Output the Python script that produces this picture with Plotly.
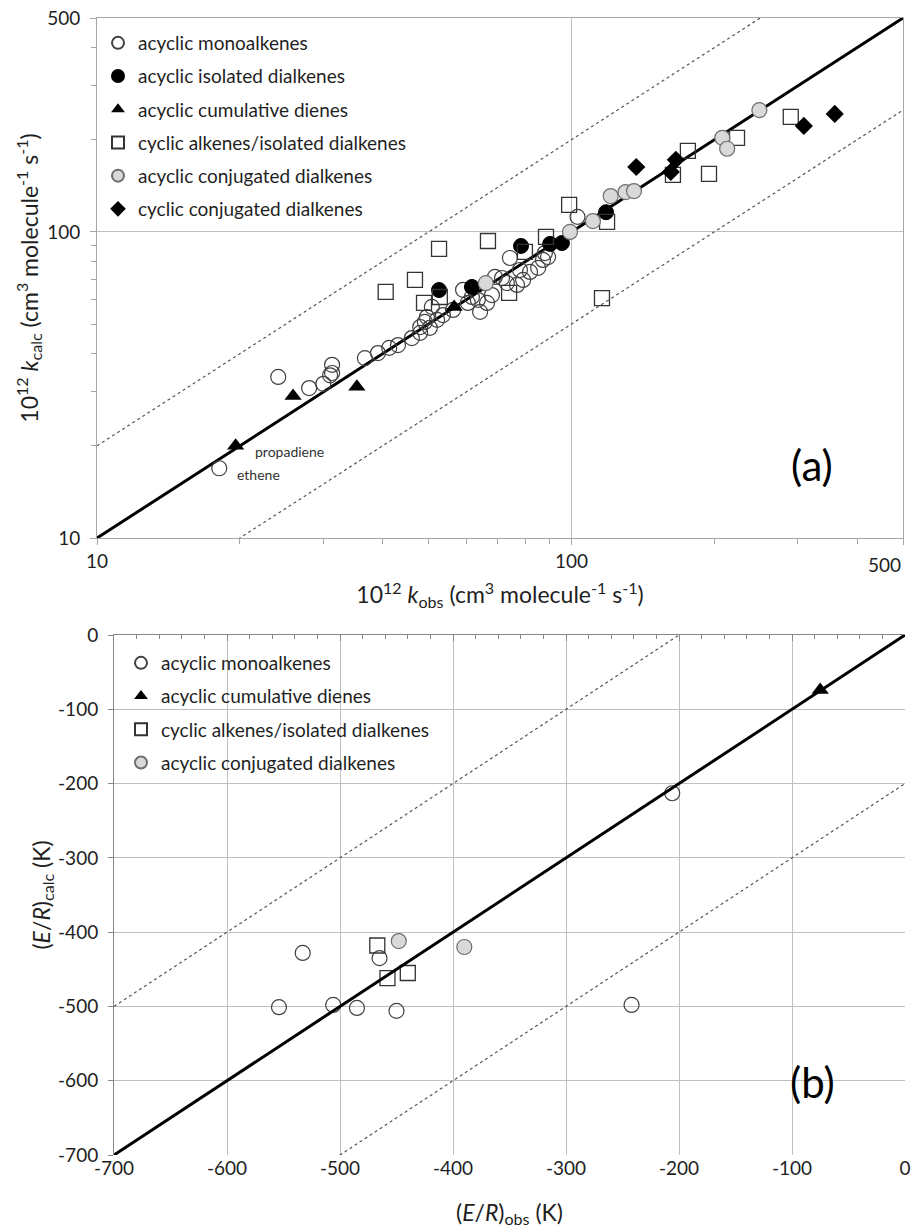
import plotly.graph_objects as go
import numpy as np

# ---------------- Panel (a): 10^12 k_obs vs 10^12 k_calc ----------------
mono_x = [18.1, 24.1, 28.0, 30.0, 31.3, 31.3, 31.0, 36.7, 39.1, 41.3, 43.1, 46.1, 48.0, 49.1, 50.3,
          50.8, 53.6, 49.6, 52.1, 48.0, 56.3, 59.1, 61.7, 63.5, 60.5, 64.2, 66.4, 68.0, 69.0, 71.4,
          73.1, 76.8, 79.1, 81.8, 85.1, 87.1, 89.3, 74.2, 77.9, 87.9, 103.0]
mono_y = [16.9, 33.6, 30.9, 31.9, 36.8, 34.6, 34.0, 38.7, 40.2, 41.8, 42.7, 45.0, 46.8, 50.8, 48.6,
          56.9, 53.5, 52.7, 51.6, 48.9, 55.6, 64.7, 61.3, 60.0, 58.6, 54.8, 58.6, 62.2, 71.3, 70.7,
          68.1, 67.1, 69.7, 74.0, 76.3, 81.0, 82.8, 82.2, 75.1, 85.3, 112.0]

iso_x = [52.6, 61.7, 78.3, 90.2, 95.5, 118.3]
iso_y = [64.6, 66.1, 90.0, 91.4, 92.0, 116.0]

cum_x = [19.6, 25.9, 35.3, 56.6]
cum_y = [20.0, 29.1, 31.2, 56.9]

cyc_x = [40.6, 46.8, 48.9, 52.8, 52.6, 66.7, 73.9, 79.8, 88.4, 98.9, 118.9, 116.0, 163.7, 176.0, 195.0, 223.4, 290.0]
cyc_y = [63.7, 69.7, 58.6, 61.3, 88.0, 93.4, 63.2, 86.1, 96.3, 122.5, 107.8, 60.8, 153.5, 184.0, 154.7, 202.8, 237.6]

conj_x = [249.0, 208.0, 213.0, 121.0, 130.0, 135.5, 111.0, 99.3, 66.0]
conj_y = [250.0, 203.0, 187.0, 131.0, 135.0, 136.0, 108.5, 100.0, 68.0]

cconj_x = [137.0, 166.0, 162.0, 309.0, 359.0]
cconj_y = [163.0, 172.0, 157.0, 222.0, 243.0]

a_range = [10, 500]          # axis limits
a_factors = [1.0, 2.0, 0.5]  # parity line, factor-of-two lines
a_ticks = [10, 100, 500]
a_ticktext = ["10", "100", "500"]
a_minor = [20, 30, 40, 50, 60, 70, 80, 90, 200, 300, 400]

# ---------------- Panel (b): (E/R)obs vs (E/R)calc ----------------
bmono_x = [-206, -242, -533, -554, -506, -485, -450, -465]
bmono_y = [-213, -498, -428, -501, -498, -502, -506, -435]
bcum_x = [-75]
bcum_y = [-74]
bcyc_x = [-467, -458, -440]
bcyc_y = [-418, -462, -455]
bconj_x = [-448, -390]
bconj_y = [-412, -420]

b_range = [-700, 0]
b_offsets = [0, 200, -200]
b_ticks = [-700, -600, -500, -400, -300, -200, -100, 0]
b_ticktext = ["-700", "-600", "-500", "-400", "-300", "-200", "-100", "0"]

W, H = 915, 1229
FONT = "Lato"
TXT = "#1f1f1f"

def px_x(p):
    return p / W

def px_y(p):
    return 1 - p / H

fig = go.Figure()

# reference lines panel (a)
for f in a_factors:
    lx = np.array(a_range, dtype=float)
    ly = lx * f
    if f == 1.0:
        fig.add_trace(go.Scatter(x=lx, y=ly, mode="lines", line=dict(color="black", width=3),
                                 showlegend=False, hoverinfo="skip", xaxis="x", yaxis="y"))
    else:
        fig.add_trace(go.Scatter(x=lx, y=ly, mode="lines", line=dict(color="#555555", width=1.2, dash="3px,3px"),
                                 showlegend=False, hoverinfo="skip", xaxis="x", yaxis="y"))

mk_line = "#404040"
series_a = [
    ("acyclic monoalkenes", mono_x, mono_y, dict(symbol="circle-open", size=15, color=mk_line, line=dict(width=1.2))),
    ("acyclic isolated dialkenes", iso_x, iso_y, dict(symbol="circle", size=15, color="black", line=dict(color="black", width=1))),
    ("acyclic cumulative dienes", cum_x, cum_y, dict(symbol="triangle-up", size=15, color="black", line=dict(color="black", width=0))),
    ("cyclic alkenes/isolated dialkenes", cyc_x, cyc_y, dict(symbol="square-open", size=15, color="#333333", line=dict(width=1.3))),
    ("acyclic conjugated dialkenes", conj_x, conj_y, dict(symbol="circle", size=15, color="#d9d9d9", line=dict(color="#6e6e6e", width=1.2))),
    ("cyclic conjugated dialkenes", cconj_x, cconj_y, dict(symbol="diamond", size=14, color="black", line=dict(color="black", width=0))),
]
for i, (name, xs, ys, mk) in enumerate(series_a):
    fig.add_trace(go.Scatter(x=xs, y=ys, mode="markers", name=name, marker=mk,
                             legendgroup="a%d" % i, legend="legend", xaxis="x", yaxis="y"))

# reference lines panel (b)
for off in b_offsets:
    lx = np.array(b_range, dtype=float)
    ly = lx + off
    if off == 0:
        fig.add_trace(go.Scatter(x=lx, y=ly, mode="lines", line=dict(color="black", width=3),
                                 showlegend=False, hoverinfo="skip", xaxis="x3", yaxis="y2"))
    else:
        fig.add_trace(go.Scatter(x=lx, y=ly, mode="lines", line=dict(color="#555555", width=1.2, dash="3px,3px"),
                                 showlegend=False, hoverinfo="skip", xaxis="x2", yaxis="y2"))

series_b = [
    ("acyclic monoalkenes", bmono_x, bmono_y, dict(symbol="circle-open", size=15, color=mk_line, line=dict(width=1.2))),
    ("acyclic cumulative dienes", bcum_x, bcum_y, dict(symbol="triangle-up", size=15, color="black", line=dict(color="black", width=0))),
    ("cyclic alkenes/isolated dialkenes", bcyc_x, bcyc_y, dict(symbol="square-open", size=15, color="#333333", line=dict(width=1.3))),
    ("acyclic conjugated dialkenes", bconj_x, bconj_y, dict(symbol="circle", size=15, color="#d9d9d9", line=dict(color="#6e6e6e", width=1.2))),
]
for i, (name, xs, ys, mk) in enumerate(series_b):
    fig.add_trace(go.Scatter(x=xs, y=ys, mode="markers", name=name, marker=mk,
                             legendgroup="b%d" % i, legend="legend2", xaxis="x2", yaxis="y2"))

axis_font = dict(family=FONT, size=19, color=TXT)
title_font = dict(family=FONT, size=23, color=TXT)
leg_font = dict(family=FONT, size=19, color=TXT)

# the last x tick label of panel (a) is drawn right-aligned at its tick (as in the reference)
a_xticktext_axis = a_ticktext[:-1] + [""]

fig.update_layout(
    width=W, height=H,
    margin=dict(l=0, r=0, t=0, b=0),
    paper_bgcolor="white", plot_bgcolor="white",
    font=dict(family=FONT, color=TXT),
    xaxis=dict(type="log", range=[np.log10(a_range[0]), np.log10(a_range[1])],
               domain=[px_x(97), px_x(903)], anchor="y",
               tickmode="array", tickvals=a_ticks, ticktext=a_xticktext_axis,
               showgrid=True, gridcolor="#bfbfbf", gridwidth=1,
               showline=True, linecolor="#a6a6a6", linewidth=1, mirror=True,
               ticks="outside", ticklen=6, tickcolor="#a6a6a6",
               minor=dict(tickmode="array", tickvals=a_minor, ticks="outside", ticklen=5,
                          tickcolor="#a6a6a6", showgrid=False),
               tickfont=axis_font, automargin=False, zeroline=False,
               title=dict(text="10<sup>12</sup> <i>k</i><sub>obs</sub> (cm<sup>3</sup> molecule<sup>-1</sup> s<sup>-1</sup>)",
                          font=title_font, standoff=16)),
    yaxis=dict(type="log", range=[np.log10(a_range[0]), np.log10(a_range[1])],
               domain=[px_y(538), px_y(18)], anchor="x",
               tickmode="array", tickvals=a_ticks, ticktext=a_ticktext,
               showgrid=True, gridcolor="#bfbfbf", gridwidth=1,
               showline=True, linecolor="#a6a6a6", linewidth=1, mirror=True,
               ticks="outside", ticklen=6, tickcolor="#a6a6a6",
               minor=dict(tickmode="array", tickvals=a_minor, ticks="outside", ticklen=5,
                          tickcolor="#a6a6a6", showgrid=False),
               tickfont=axis_font, automargin=False, zeroline=False, ticklabelstandoff=6,
               title=dict(text="10<sup>12</sup> <i>k</i><sub>calc</sub> (cm<sup>3</sup> molecule<sup>-1</sup> s<sup>-1</sup>)",
                          font=title_font, standoff=2)),
    xaxis2=dict(range=b_range, domain=[px_x(114), px_x(905)], anchor="y2",
                tickmode="array", tickvals=b_ticks, ticktext=b_ticktext, ticklabeloverflow="allow",
                showgrid=True, gridcolor="#bfbfbf", gridwidth=1,
                showline=False, ticks="", zeroline=False,
                tickfont=axis_font, automargin=False,
                title=dict(text="(<i>E</i>/<i>R</i>)<sub>obs</sub> (K)", font=title_font, standoff=26)),
    xaxis3=dict(range=b_range, overlaying="x2", matches="x2", anchor="y2", side="top",
                tickmode="array", tickvals=b_ticks, showticklabels=False,
                showgrid=False, showline=True, linecolor="#868686", linewidth=1,
                ticks="inside", ticklen=6, tickcolor="#868686", zeroline=False,
                minor=dict(dtick=20, tick0=0, ticks="inside", ticklen=4, tickcolor="#868686", showgrid=False),
                automargin=False),
    yaxis2=dict(range=b_range, domain=[px_y(1155), px_y(635)], anchor="x2",
                tickmode="array", tickvals=b_ticks, ticktext=b_ticktext,
                showgrid=True, gridcolor="#bfbfbf", gridwidth=1,
                showline=True, linecolor="#868686", linewidth=1,
                ticks="outside", ticklen=5, tickcolor="#868686", zeroline=False,
                tickfont=axis_font, automargin=False, ticklabelstandoff=6,
                title=dict(text="(<i>E</i>/<i>R</i>)<sub>calc</sub> (K)", font=title_font, standoff=1)),
    legend=dict(x=px_x(98), y=px_y(24), xanchor="left", yanchor="top",
                bgcolor="rgba(0,0,0,0)", font=leg_font,
                traceorder="grouped", tracegroupgap=5.5, itemwidth=30, itemsizing="constant"),
    legend2=dict(x=px_x(121), y=px_y(644), xanchor="left", yanchor="top",
                 bgcolor="rgba(0,0,0,0)", font=leg_font,
                 traceorder="grouped", tracegroupgap=5.5, itemwidth=30, itemsizing="constant"),
    annotations=[
        dict(x=np.log10(a_ticks[-1]), y=px_y(551), xref="x", yref="paper", text=a_ticktext[-1], showarrow=False,
             xanchor="right", yanchor="top", font=axis_font),
        dict(x=np.log10(21.3), y=np.log10(19.1), xref="x", yref="y", text="propadiene", showarrow=False,
             xanchor="left", yanchor="middle", font=dict(family=FONT, size=14, color="#333333")),
        dict(x=np.log10(19.55), y=np.log10(16.07), xref="x", yref="y", text="ethene", showarrow=False,
             xanchor="left", yanchor="middle", font=dict(family=FONT, size=14, color="#333333")),
        dict(x=px_x(812), y=px_y(465), xref="paper", yref="paper", text="(a)", showarrow=False,
             xanchor="center", yanchor="middle", font=dict(family=FONT, size=42, color="black")),
        dict(x=px_x(812), y=px_y(1082), xref="paper", yref="paper", text="(b)", showarrow=False,
             xanchor="center", yanchor="middle", font=dict(family=FONT, size=42, color="black")),
    ],
)

fig.write_html("out.html", config={"displayModeBar": False},
               post_script="document.body.style.margin='0px';document.body.style.padding='0px';")
